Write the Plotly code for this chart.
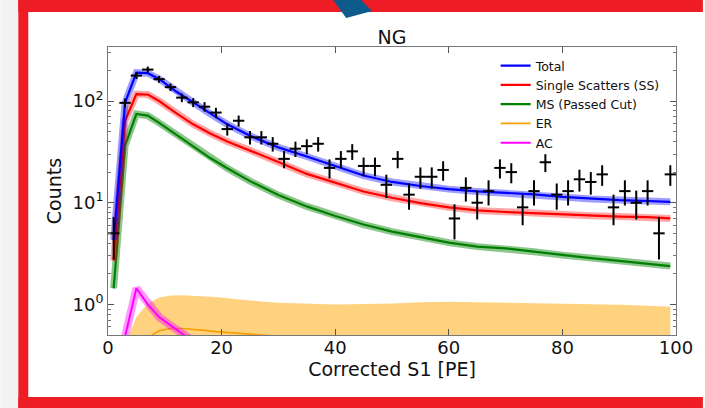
import math
import plotly.graph_objects as go

# ---- measured NG spectrum: 2 PE bins, centres at odd S1 values ----
bin_centers = list(range(1, 100, 2))
counts = [5, 96, 178, 204, 164, 137, 108, 97, 88, 77,
          53, 64, 44, 44, 38, 27, 34, 36, 38, 22,
          27, 32, 23, 23, 15, 27, 12, 18, 18, 21,
          7, 14, 10, 13, 22, 20, 9, 13, 25, 12,
          13, 17, 16, 19, 9, 13, 10, 13, 5, 19]
count_err = [math.sqrt(c) for c in counts]
bin_half_width = [1] * len(bin_centers)

# ---- model components ----
model_x = [1, 3, 5, 7, 9, 12, 15, 18, 21, 25, 30, 35, 40, 45, 50,
           55, 60, 65, 70, 75, 80, 85, 90, 95, 99]
total = [4.3, 96, 190, 188, 165, 124, 97, 75, 59, 45.5, 35, 28.5, 23, 18.5, 16,
         14.6, 13.6, 12.9, 12.5, 12.1, 11.4, 10.9, 10.6, 10.4, 10.2]
single_scatter = [2.7, 64, 117, 116, 100, 76, 59, 48, 40, 32.8, 25.2, 19.2, 15.8, 12.9, 11.2,
                  9.9, 9.0, 8.4, 8.1, 7.9, 7.6, 7.45, 7.3, 7.2, 7.0]
multi_scatter = [1.44, 36.5, 74.6, 71.8, 61, 46.8, 35.3, 27.5, 21.8, 16.3, 11.9, 9.2, 7.4, 6.1, 5.2,
                 4.55, 4.05, 3.7, 3.55, 3.3, 3.05, 2.85, 2.68, 2.5, 2.38]

er_x = [1, 3, 5, 7, 9, 11, 13, 15, 17, 19, 21, 23, 25, 27, 30, 35, 40, 45, 50,
        55, 60, 65, 70, 75, 80, 85, 90, 95, 99]
er_central = [0.02, 0.1, 0.3, 0.47, 0.55, 0.58, 0.58, 0.57, 0.555, 0.54, 0.53, 0.515, 0.505,
              0.495, 0.48, 0.46, 0.44, 0.43, 0.42, 0.415, 0.41, 0.405, 0.4, 0.395, 0.39,
              0.385, 0.38, 0.375, 0.37]
er_upper = [0.05, 0.4, 0.75, 1.02, 1.17, 1.22, 1.23, 1.22, 1.2, 1.18, 1.15, 1.12, 1.09,
            1.07, 1.04, 1.02, 1.0, 1.01, 1.02, 1.05, 1.06, 1.05, 1.04, 1.02, 1.02,
            1.0, 0.99, 0.97, 0.95]
er_lower = [0.01, 0.02, 0.05, 0.1, 0.12, 0.13, 0.13, 0.13, 0.13, 0.12, 0.12, 0.12, 0.12,
            0.11, 0.11, 0.1, 0.1, 0.1, 0.1, 0.1, 0.1, 0.1, 0.1, 0.1, 0.1,
            0.1, 0.1, 0.1, 0.1]

ac_x = [1, 3, 5, 7, 9, 11, 13, 15, 17, 19, 21, 25]
accidentals = [0.02, 0.48, 1.44, 1.0, 0.75, 0.62, 0.51, 0.43, 0.37, 0.32, 0.28, 0.2]

FONT = "DejaVu Sans"
INK = "#111111"
W, H = 705, 408
L, R, T, B = 108, 27, 47, 73
PW, PH = W - L - R, H - T - B


def px(xp):
    return (xp - L) / PW


def py(yp):
    return (H - B - yp) / PH


fig = go.Figure()

# ER: shaded range plus central curve
fig.add_trace(go.Scatter(x=er_x, y=er_lower, mode="lines", line=dict(width=0),
                         showlegend=False, hoverinfo="skip"))
fig.add_trace(go.Scatter(x=er_x, y=er_upper, mode="lines", line=dict(width=0),
                         fill="tonexty", fillcolor="rgba(255,165,0,0.5)",
                         showlegend=False, hoverinfo="skip"))
fig.add_trace(go.Scatter(x=er_x, y=er_central, mode="lines", name="ER",
                         line=dict(color="#f5a000", width=1.6), legendrank=4))

# AC with its uncertainty band
fig.add_trace(go.Scatter(x=ac_x, y=accidentals, mode="lines",
                         line=dict(color="rgba(255,0,255,0.4)", width=8),
                         showlegend=False, hoverinfo="skip"))
fig.add_trace(go.Scatter(x=ac_x, y=accidentals, mode="lines", name="AC",
                         line=dict(color="#ff00ff", width=2), legendrank=5))

components = [
    ("MS (Passed Cut)", multi_scatter, "#008000", "rgba(0,128,0,0.45)", 3),
    ("Single Scatters (SS)", single_scatter, "#ff0000", "rgba(255,0,0,0.35)", 2),
    ("Total", total, "#0000ff", "rgba(0,0,255,0.38)", 1),
]
for name, vals, col, band, rank in components:
    fig.add_trace(go.Scatter(x=model_x, y=vals, mode="lines",
                             line=dict(color=band, width=7),
                             showlegend=False, hoverinfo="skip"))
    fig.add_trace(go.Scatter(x=model_x, y=vals, mode="lines", name=name,
                             line=dict(color=col, width=2.2), legendrank=rank))

# data with Poisson errors and bin widths
fig.add_trace(go.Scatter(
    x=bin_centers, y=counts, mode="markers",
    marker=dict(size=1, color="black"),
    error_y=dict(type="data", array=count_err, color="black", thickness=2, width=0),
    error_x=dict(type="data", array=bin_half_width, color="black", thickness=2, width=0),
    showlegend=False,
))

axis_common = dict(showline=True, linecolor="#777777", linewidth=1, mirror="allticks",
                   ticks="inside", ticklen=6, tickcolor="#555555", showgrid=False,
                   zeroline=False, tickfont=dict(family=FONT, size=18, color=INK))

fig.update_xaxes(range=[0, 100], tickvals=[0, 20, 40, 60, 80, 100],
                 ticklabelstandoff=-4,
                 title=dict(text="Corrected S1 [PE]", standoff=2,
                            font=dict(family=FONT, size=19, color=INK)),
                 **axis_common)

minor_vals = [0.6, 0.7, 0.8, 0.9, 2, 3, 4, 5, 6, 7, 8, 9,
              20, 30, 40, 50, 60, 70, 80, 90, 200, 300]
fig.update_yaxes(type="log", range=[math.log10(0.5), math.log10(340)],
                 tickvals=[1, 10, 100],
                 ticktext=["10<sup>0</sup>", "10<sup>1</sup>", "10<sup>2</sup>"],
                 minor=dict(tickvals=minor_vals, ticks="inside", ticklen=3,
                            tickcolor="#777777", showgrid=False),
                 title=dict(text="Counts", standoff=5,
                            font=dict(family=FONT, size=19, color=INK)),
                 **axis_common)

shapes = [
    # page strip to the left of the frame
    dict(type="rect", xref="paper", yref="paper", x0=px(0), x1=px(18), y0=py(408), y1=py(0),
         fillcolor="#f2f2f2", line=dict(width=0), layer="above"),
    # red frame
    dict(type="rect", xref="paper", yref="paper", x0=px(18), x1=px(28), y0=py(408), y1=py(0),
         fillcolor="#ee1c25", line=dict(width=0), layer="above"),
    dict(type="rect", xref="paper", yref="paper", x0=px(18), x1=px(705), y0=py(12), y1=py(0),
         fillcolor="#ee1c25", line=dict(width=0), layer="above"),
    dict(type="rect", xref="paper", yref="paper", x0=px(18), x1=px(705), y0=py(408), y1=py(397),
         fillcolor="#ee1c25", line=dict(width=0), layer="above"),
    # arrowhead poking in from above
    dict(type="path", xref="paper", yref="paper",
         path=(f"M {px(334)} {py(0)} L {px(362)} {py(0)} L {px(373)} {py(11)} "
               f"L {px(347)} {py(18)} Z"),
         fillcolor="#0d5a8c", line=dict(width=0), layer="above"),
]

fig.update_layout(
    width=W, height=H,
    margin=dict(l=L, r=R, t=T, b=B),
    paper_bgcolor="white", plot_bgcolor="white",
    font=dict(family=FONT, color=INK),
    title=dict(text="NG", x=0.5, xref="paper", y=1 - 37 / H, yref="container",
               yanchor="middle", xanchor="center",
               font=dict(family=FONT, size=19, color=INK)),
    legend=dict(x=px(497), y=py(51), xanchor="left", yanchor="top",
                bgcolor="rgba(0,0,0,0)", borderwidth=0, traceorder="normal",
                font=dict(family=FONT, size=12.5, color=INK),
                tracegroupgap=0, itemwidth=30),
    shapes=shapes,
    showlegend=True,
)

fig.write_html("out.html")
